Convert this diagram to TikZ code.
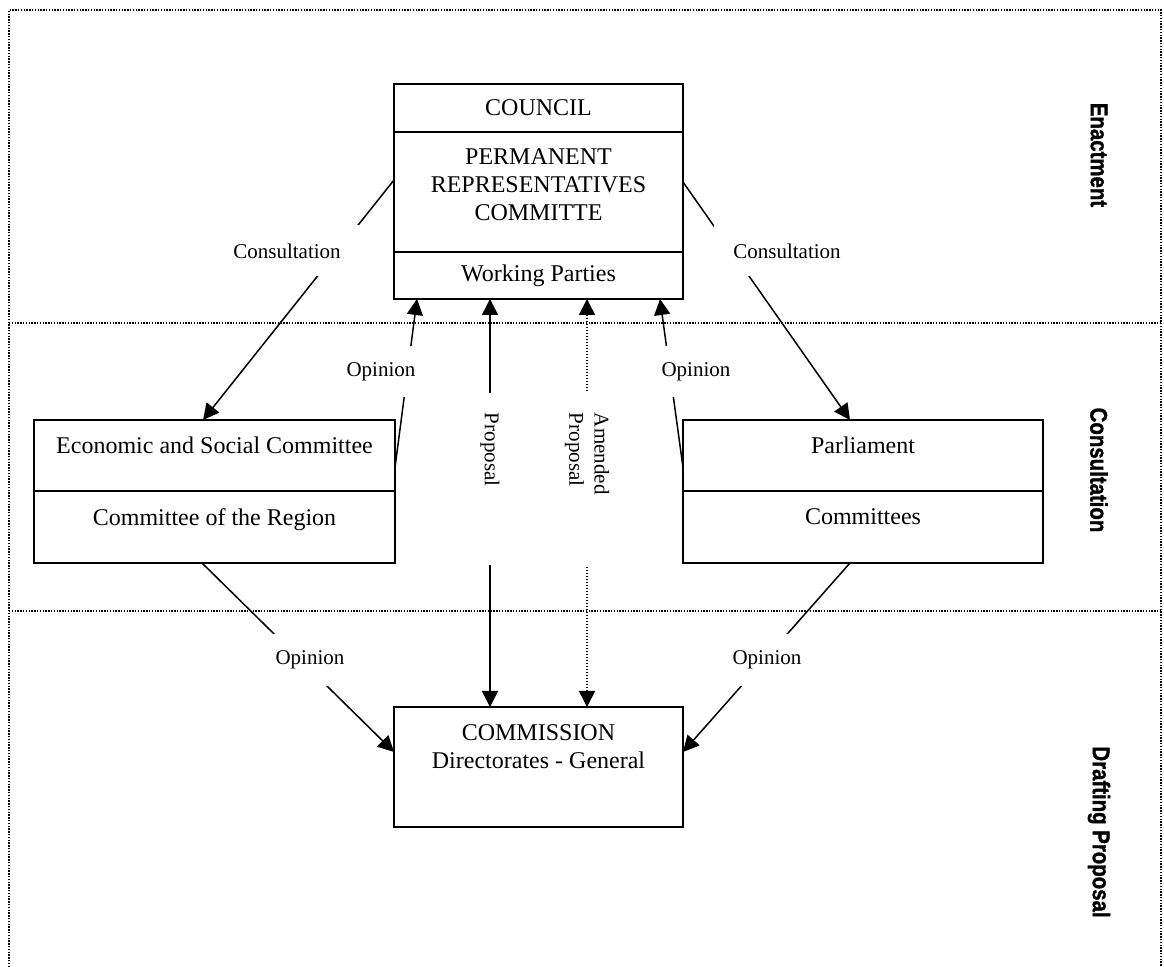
\documentclass[tikz,border=0pt]{standalone}
\usepackage{fontspec}
\setmainfont{Liberation Serif}
\newfontfamily\phasefont[BoldFeatures={FakeBold=1.5}]{Liberation Sans}
\usetikzlibrary{positioning,calc,arrows.meta}

\begin{document}
\begin{tikzpicture}[
    x=0.5pt, y=-0.5pt,
    cell/.style={draw, line width=1pt, inner sep=0pt, outer sep=0pt},
    wide/.style={cell, minimum width=180.5pt},
    narrow/.style={cell, minimum width=144.5pt},
    celltext/.style={font=\fontsize{12}{14}\selectfont, align=center, inner sep=0pt},
    arrow/.style={-{Triangle[length=8pt,width=8pt]}, line width=0.75pt},
    twoway/.style={arrow, {Triangle[length=8pt,width=8pt]}-{Triangle[length=8pt,width=8pt]}},
    lbl/.style={fill=white, font=\fontsize{10.5}{12.6}\selectfont, inner xsep=3pt, minimum height=25.5pt},
    vlbl/.style={lbl, rotate=-90, text width=66pt, align=left, inner xsep=10pt, minimum height=24pt},
    phase/.style={rotate=-90, font=\phasefont\bfseries\fontsize{12}{14}\selectfont},
    guide/.style={line width=0.75pt, dash pattern=on 0.7pt off 0.7pt}
]
    \useasboundingbox (0,0) rectangle (1164,967);

    % Stages
    \draw[guide] (9,967) -- (9,10) -- (1161,10) -- (1161,967);
    \draw[guide] (9,323) -- (1161,323);
    \draw[guide] (9,611) -- (1161,611);

    \node[phase] (enact) at (1099,155) {\scalebox{0.85}[1]{Enactment}};
    \node[phase] (consult) at (1099,470) {\scalebox{0.85}[1]{Consultation}};
    \node[phase] (draft) at (1099,832) {\scalebox{0.85}[1]{Drafting Proposal}};

    % Council
    \node[narrow, minimum height=24pt, celltext] (council) at (538.5,108) {COUNCIL};
    \node[narrow, minimum height=60pt, below=0pt of council] (perm) {};
    \node[narrow, minimum height=23.5pt, below=0pt of perm, celltext] (parties) {Working Parties};
    \node[celltext, below=8pt of perm.north] (permtext) {PERMANENT\\REPRESENTATIVES\\COMMITTE};

    % Advisory bodies
    \node[wide, minimum height=35.5pt] (esc) at (214.5,455.5) {};
    \node[wide, minimum height=36pt, below=0pt of esc] (cor) {};
    \node[celltext, below=8pt of esc.north] (esctext) {Economic and Social Committee};
    \node[celltext, below=8.5pt of cor.north] (cortext) {Committee of the Region};

    \node[wide, minimum width=180pt, minimum height=35.5pt] (parl) at (863,455.5) {};
    \node[wide, minimum width=180pt, minimum height=36pt, below=0pt of parl] (committees) {};
    \node[celltext, below=8pt of parl.north] (parltext) {Parliament};
    \node[celltext, below=8.5pt of committees.north] (committeestext) {Committees};

    % Commission
    \node[narrow, minimum height=60pt] (comm) at (538.5,767) {};
    \node[celltext, below=8.5pt of comm.north] (commtext) {COMMISSION\\Directorates - General};

    % Flows
    \draw[arrow] ([yshift=6pt]perm.west) -- ([xshift=-5.75pt]esc.north);
    \draw[arrow] ([yshift=5pt]perm.east) -- ([xshift=-6.5pt]parl.north);
    \draw[arrow] ([yshift=-6pt]esc.east) -- ([xshift=-60.75pt]parties.south);
    \draw[arrow] ([yshift=-6pt]parl.west) -- ([xshift=60.75pt]parties.south);
    \draw[twoway] ([xshift=-24.25pt]parties.south) -- ([xshift=-24.25pt]comm.north);
    \draw[twoway, dash pattern=on 0.7pt off 0.8pt] ([xshift=24.25pt]parties.south) -- ([xshift=24.25pt]comm.north);
    \draw[arrow] ([xshift=-6.25pt]cor.south) -- ([yshift=7.5pt]comm.west);
    \draw[arrow] ([xshift=-6.5pt]committees.south) -- ([yshift=7.5pt]comm.east);

    % Labels
    \node[lbl, minimum width=73pt] (consleft) at (287,251) {Consultation};
    \node[lbl, minimum width=73pt] (consright) at (787,251) {Consultation};
    \node[lbl] (opleft) at (381,372) {Opinion};
    \node[lbl] (opright) at (696,372) {Opinion};
    \node[lbl, minimum height=26pt] (oplowleft) at (310,660) {Opinion};
    \node[lbl, minimum height=26pt] (oplowright) at (767,660) {Opinion};
    \node[vlbl] (proposal) at (490,479) {Proposal};
    \node[vlbl] (amended) at (587,479) {Amended\\Proposal};
\end{tikzpicture}
\end{document}
